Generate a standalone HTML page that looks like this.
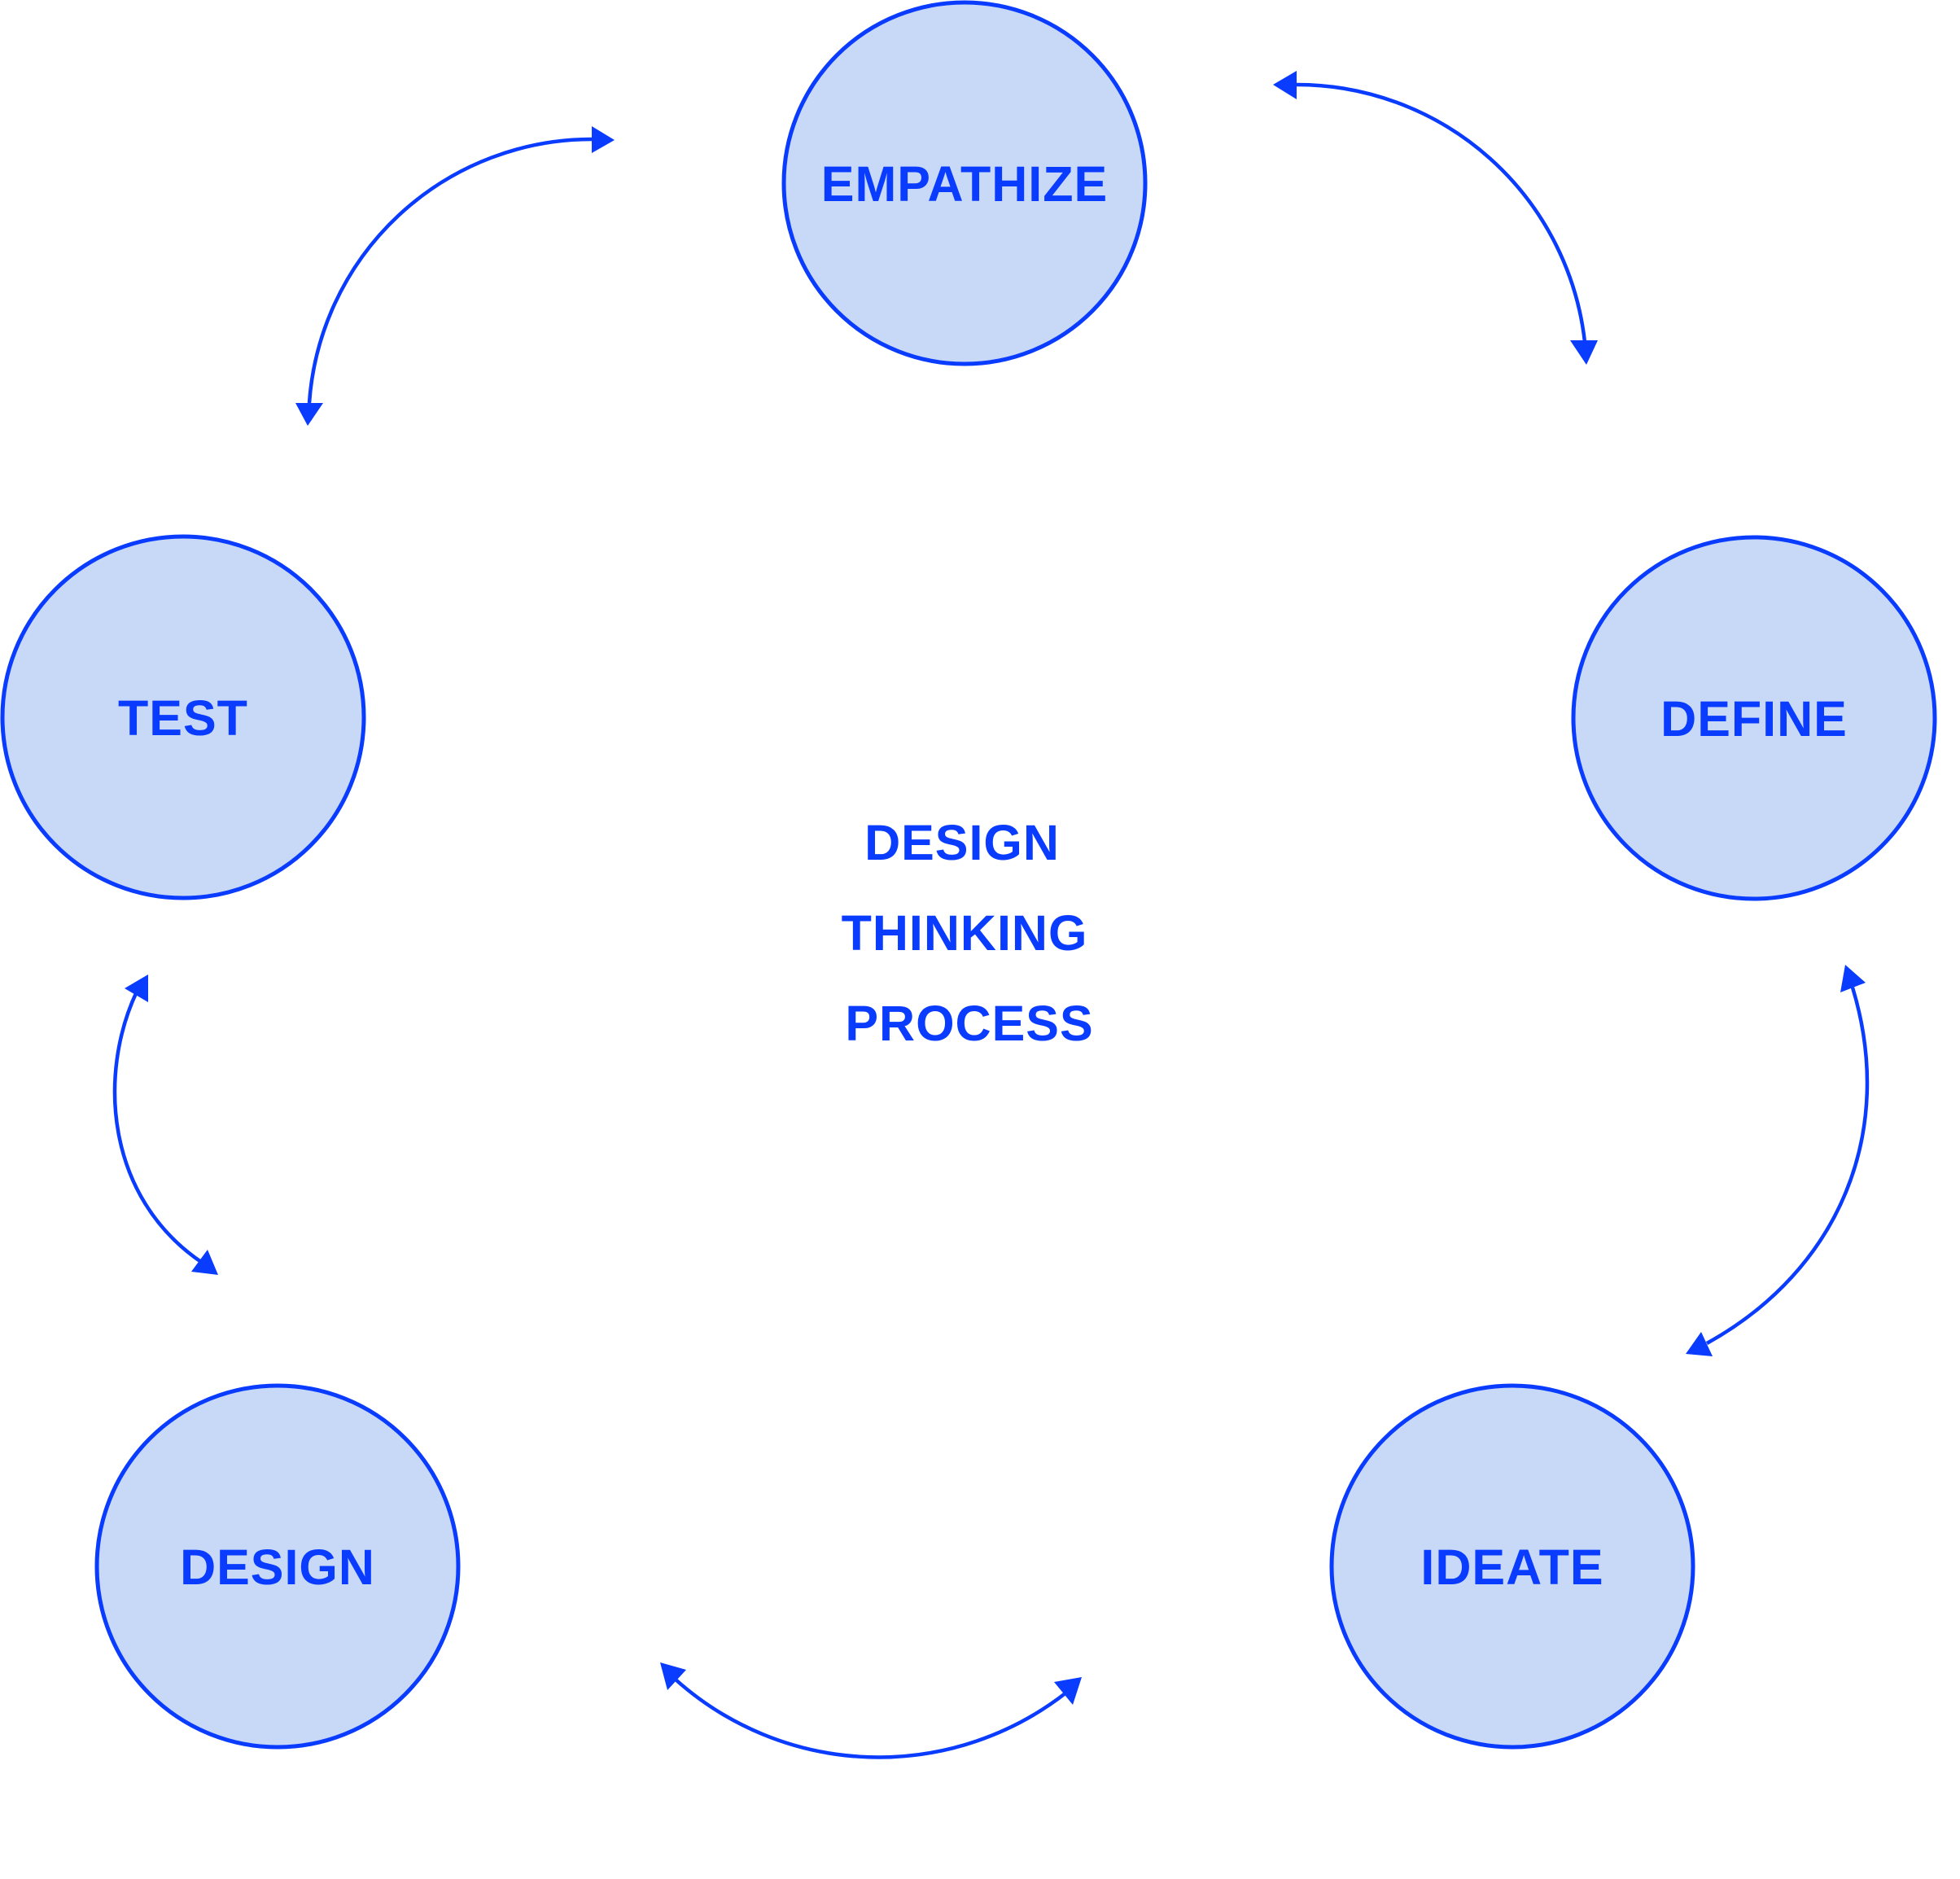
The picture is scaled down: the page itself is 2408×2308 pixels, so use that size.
<!DOCTYPE html>
<html><head><meta charset="utf-8"><style>
html,body{margin:0;padding:0;background:#fff;}
svg{display:block;}
text{font-family:"Liberation Sans",sans-serif;font-weight:bold;font-size:61px;fill:#0a3cff;text-anchor:middle;letter-spacing:1px;}
</style></head><body>
<svg width="2408" height="2308" viewBox="0 0 2408 2308" xmlns="http://www.w3.org/2000/svg">
<g fill="#c7d9f6" stroke="#0a3cff" stroke-width="5">
<circle cx="1185" cy="225" r="222"/>
<circle cx="225" cy="881" r="222"/>
<circle cx="2155" cy="882" r="222"/>
<circle cx="341" cy="1924" r="222"/>
<circle cx="1858" cy="1924" r="222"/>
</g>
<text x="1185" y="247">EMPATHIZE</text>
<text x="225" y="903">TEST</text>
<text x="2155" y="904">DEFINE</text>
<text x="341" y="1946">DESIGN</text>
<text x="1858" y="1946">IDEATE</text>
<text x="1182" y="1056">DESIGN</text>
<text x="1185" y="1167">THINKING</text>
<text x="1191" y="1278">PROCESS</text>
<g fill="none" stroke="#0a3cff" stroke-width="4.5">
<path d="M727,171 A348,348 0 0 0 380,495"/>
<path d="M1593,104 A356,356 0 0 1 1947,420"/>
<path d="M2276,1213 C2330,1390 2260,1560 2097,1650"/>
<path d="M168,1218 C120,1320 130,1470 247,1550"/>
<path d="M830,2063 A374,374 0 0 0 1310,2079"/>
</g>
<g fill="#0a3cff">
<polygon points="755,172 727,155 727,188"/>
<polygon points="378,523 363,495 397,495"/>
<polygon points="1564,104 1593,87 1593,122"/>
<polygon points="1949,448 1929,418 1963,418"/>
<polygon points="2267,1185 2261,1219 2292,1207"/>
<polygon points="2071,1663 2090,1636 2104,1666"/>
<polygon points="182,1197 153,1214 182,1231"/>
<polygon points="268,1566 235,1562 255,1535"/>
<polygon points="811,2042 843,2051 820,2076"/>
<polygon points="1329,2060 1295,2066 1318,2094"/>
</g>
</svg>
</body></html>
